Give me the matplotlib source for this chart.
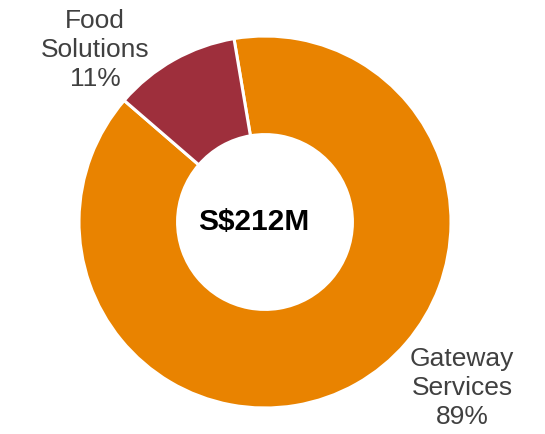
import matplotlib.pyplot as plt

segments = ['Gateway\nServices', 'Food\nSolutions']
shares = [89, 11]
colors = ['#E98300', '#9E2F3C']
total_label = 'S$212M'

plt.rcParams['font.family'] = ['Liberation Sans', 'DejaVu Sans']

fig = plt.figure(figsize=(5.45, 4.34), dpi=100)
ax = fig.add_axes([0, 0, 1, 1])

ax.pie(shares, colors=colors, startangle=99.6, counterclock=False,
       radius=1.0, wedgeprops=dict(width=0.53, edgecolor='white', linewidth=2.2))

# ring: radius 1 ~ 186 px, centre near (265, 222) px from top-left
r_px = 186.0
cx, cy = 265.0, 434 - 222.0
ax.set_xlim(-cx / r_px, (545 - cx) / r_px)
ax.set_ylim(-cy / r_px, (434 - cy) / r_px)
ax.set_aspect('equal')
ax.axis('off')

ax.text(-0.06, 0, total_label, ha='center', va='center',
        fontsize=21.5, fontweight='bold', color='black')

# outside labels
label_pos = [(462, 388), (95, 50)]
for name, val, (px, py) in zip(segments, shares, label_pos):
    ax.text((px - cx) / r_px, (434 - py - cy) / r_px, f'{name}\n{val}%',
            ha='center', va='center', fontsize=19, color='#404040',
            linespacing=1.28)

fig.savefig('out.png', dpi=100)
